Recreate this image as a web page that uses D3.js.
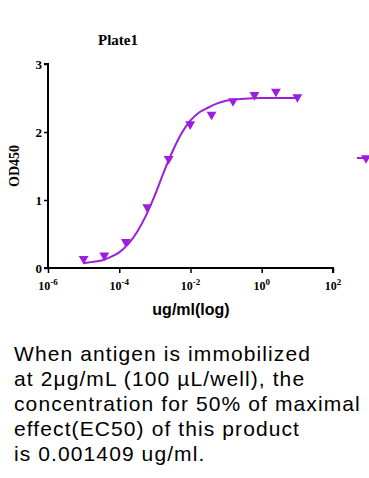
<!DOCTYPE html>
<html lang="en">
<head>
    <meta charset="UTF-8">
    <script src="https://d3js.org/d3.v7.min.js"></script>
    <title>Plate1</title>
    <style>
        body { margin: 0; background: #fff; }
        svg { display: block; }
    </style>
</head>
<body>
    <script>
        // measured points (ug/ml, OD450)
        const conc = [1e-5, 3.8e-5, 1.53e-4, 6.1e-4, 2.44e-3, 9.8e-3, 0.039, 0.156, 0.625, 2.5, 10];
        const od = [0.12, 0.17, 0.37, 0.88, 1.59, 2.10, 2.24, 2.44, 2.53, 2.58, 2.50];

        // fitted curve (log10 conc, OD450)
        const fitLog = [-5, -4.75, -4.5, -4.25, -4, -3.75, -3.5, -3.25, -3, -2.75, -2.5, -2.25, -2, -1.75, -1.5, -1.25, -1, -0.5, 0, 0.5, 1];
        const fitOd = [0.07, 0.09, 0.11, 0.16, 0.23, 0.35, 0.53, 0.77, 1.07, 1.41, 1.72, 1.98, 2.17, 2.29, 2.36, 2.42, 2.46, 2.49, 2.50, 2.50, 2.50];

        const xTicks = [1e-6, 1e-4, 1e-2, 1, 1e2];
        const xTickExp = ["-6", "-4", "-2", "0", "2"];
        const yTicks = [0, 1, 2, 3];

        const note = [
            "When antigen is immobilized",
            "at 2\u03bcg/mL (100 \u00b5L/well), the",
            "concentration for 50% of maximal",
            "effect(EC50) of this product",
            "is 0.001409 ug/ml."
        ];

        const w = 369, h = 478;
        const purple = "#9b1fdc";
        const serif = "'Liberation Serif', 'Times New Roman', serif";

        const svg = d3.select("body").append("svg")
            .attr("width", w)
            .attr("height", h);

        const xScale = d3.scaleLog().domain([1e-6, 1e2]).range([48, 333]);
        const yScale = d3.scaleLinear().domain([0, 3]).range([268, 64]);

        // title
        svg.append("text")
            .attr("x", 118).attr("y", 45)
            .attr("text-anchor", "middle")
            .style("font", "bold 15px " + serif)
            .text("Plate1");

        // y axis
        const yAxis = svg.append("g")
            .attr("transform", "translate(48,0)")
            .call(d3.axisLeft(yScale).tickValues(yTicks).tickFormat(d3.format("d")).tickSize(4).tickPadding(2));
        yAxis.select(".domain").attr("stroke-width", 2).attr("d", "M-4,64H0V268H-4");
        yAxis.selectAll(".tick line").attr("stroke-width", 1.5);
        yAxis.selectAll(".tick text").style("font", "bold 13px " + serif).attr("fill", "#000");

        // x axis
        const xAxis = svg.append("g")
            .attr("transform", "translate(0,268)")
            .call(d3.axisBottom(xScale).tickValues(xTicks).tickFormat("").tickSize(5));
        xAxis.select(".domain").attr("stroke-width", 2).attr("d", "M48,0H333V5");
        xAxis.selectAll(".tick line").attr("stroke-width", 1.5);

        const xl = svg.append("g").selectAll("text")
            .data(xTicks)
            .join("text")
            .attr("x", d => xScale(d))
            .attr("y", 290)
            .attr("text-anchor", "middle")
            .style("font", "bold 12px " + serif);
        xl.append("tspan").text("10");
        xl.append("tspan")
            .attr("dy", -5)
            .style("font-size", "9px")
            .text((d, i) => xTickExp[i]);

        svg.append("text")
            .attr("x", 191).attr("y", 315)
            .attr("text-anchor", "middle")
            .style("font", "bold 16px 'Liberation Sans', Arial, sans-serif")
            .text("ug/ml(log)");

        svg.append("text")
            .attr("transform", "translate(19,166) rotate(-90)")
            .attr("text-anchor", "middle")
            .style("font", "bold 14px " + serif)
            .text("OD450");

        // fitted curve
        const line = d3.line()
            .x((d, i) => xScale(Math.pow(10, d)))
            .y((d, i) => yScale(fitOd[i]))
            .curve(d3.curveMonotoneX);

        svg.append("path")
            .datum(fitLog)
            .attr("d", line)
            .attr("fill", "none")
            .attr("stroke", purple)
            .attr("stroke-width", 2);

        // points (downward triangles)
        const tri = d3.symbol().type(d3.symbolTriangle).size(42);
        svg.append("g").selectAll("path")
            .data(conc)
            .join("path")
            .attr("d", tri)
            .attr("transform", (d, i) => "translate(" + xScale(d) + "," + (yScale(od[i]) - 1) + ") rotate(180)")
            .attr("fill", purple);

        // legend (mostly cut off at the right edge)
        const lg = svg.append("g").attr("transform", "translate(357,158)");
        lg.append("line").attr("x1", 0).attr("x2", 18).attr("stroke", purple).attr("stroke-width", 2);
        lg.append("path").attr("d", tri).attr("transform", "translate(9,0) rotate(180)").attr("fill", purple);

        // note below chart
        svg.append("g").selectAll("text")
            .data(note)
            .join("text")
            .attr("x", 14)
            .attr("y", (d, i) => 361 + i * 25)
            .style("font", "21px 'Liberation Sans', Arial, sans-serif")
            .style("letter-spacing", "1.1px")
            .attr("fill", "#000")
            .text(d => d);
    </script>
</body>
</html>
